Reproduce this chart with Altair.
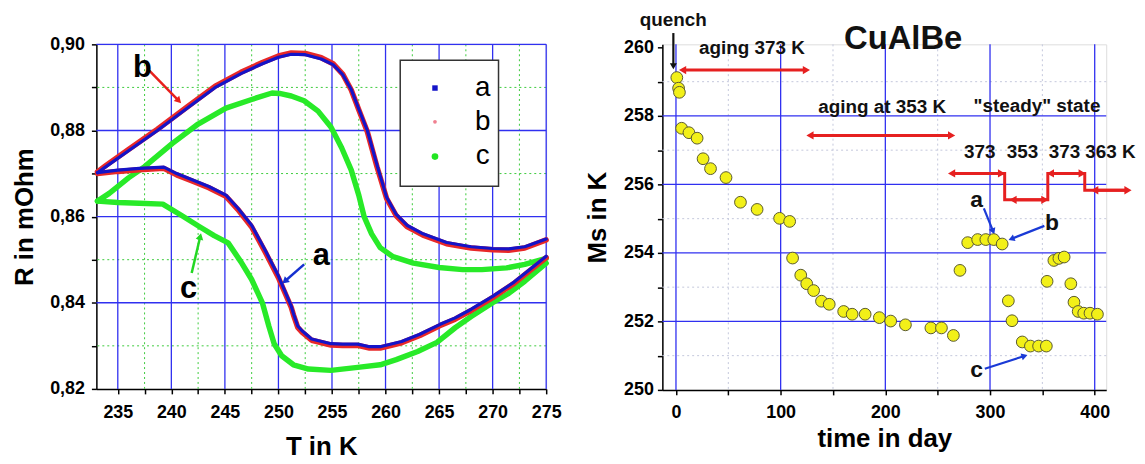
import math
import altair as alt
import pandas as pd

FONT = "Liberation Sans"

# ---------------- left panel: R(T) loops (heating branch, then cooling branch) -------------
a_T = [233.1, 233.9, 236.0, 238.7, 241.5, 244.1, 246.5, 248.5, 250.0, 251.2, 252.5, 254.0, 255.1, 256.0,
       256.8, 257.5, 258.3, 259.2, 260.1, 261.0, 262.0, 263.5, 265.7, 268.0, 270.0, 271.5, 273.0, 275.0,
       275.0, 273.5, 272.0, 270.0, 268.0, 266.5, 265.1, 263.2, 261.5, 259.5, 258.5, 257.4, 256.0, 254.9,
       253.1, 252.2, 251.8, 251.4, 251.2, 250.0, 248.8, 247.5, 246.2, 245.1, 243.5, 242.0, 240.5, 239.3,
       237.0, 235.0, 233.1]
a_R = [0.8702, 0.8716, 0.8753, 0.8800, 0.8852, 0.8900, 0.8932, 0.8955, 0.8970, 0.8977, 0.8976, 0.8966,
       0.8953, 0.8930, 0.8895, 0.8850, 0.8800, 0.8720, 0.8645, 0.8605, 0.8580, 0.8560, 0.8540, 0.8530,
       0.8526, 0.8525, 0.8530, 0.8548,
       0.8508, 0.8478, 0.8448, 0.8415, 0.8385, 0.8365, 0.8350, 0.8327, 0.8310, 0.8298, 0.8298, 0.8304,
       0.8304, 0.8305, 0.8316, 0.8335, 0.8346, 0.8375, 0.8392, 0.8462, 0.8520, 0.8580, 0.8620, 0.8650,
       0.8670, 0.8685, 0.8700, 0.8715, 0.8712, 0.8708, 0.8702]
a_n_heat = 28   # first 28 points: heating branch
b_T = a_T
b_R = [0.8704, 0.8719, 0.8756, 0.8803, 0.8855, 0.8903, 0.8935, 0.8958, 0.8973, 0.8980, 0.8979, 0.8969,
       0.8955, 0.8931, 0.8894, 0.8848, 0.8797, 0.8716, 0.8642, 0.8602, 0.8577, 0.8557, 0.8537, 0.8527,
       0.8523, 0.8522, 0.8527, 0.8546,
       0.8505, 0.8475, 0.8445, 0.8412, 0.8382, 0.8362, 0.8347, 0.8324, 0.8307, 0.8295, 0.8295, 0.8301,
       0.8301, 0.8302, 0.8313, 0.8332, 0.8343, 0.8372, 0.8389, 0.8458, 0.8516, 0.8576, 0.8617, 0.8647,
       0.8667, 0.8682, 0.8697, 0.8712, 0.8709, 0.8705, 0.8700]
b_n_heat = 28
c_T = [233.1, 234.2, 236.0, 237.5, 240.1, 242.5, 245.1, 247.5, 249.4, 250.1, 251.2, 252.4, 253.7, 254.9,
       255.9, 256.8, 257.5, 258.0, 258.7, 259.5, 260.7, 262.6, 265.0, 267.2, 269.0, 271.3, 273.0, 275.0,
       275.0, 273.0, 271.5, 270.0, 268.0, 266.5, 264.8, 263.0, 261.0, 259.5, 257.4, 254.9, 252.8, 251.4,
       250.3, 249.6, 249.1, 248.5, 247.5, 246.5, 245.3, 244.0, 242.6, 241.0, 239.2, 237.0, 235.0, 233.1]
c_R = [0.8636, 0.8654, 0.8690, 0.8716, 0.8770, 0.8815, 0.8852, 0.8872, 0.8887, 0.8886, 0.8880, 0.8869,
       0.8845, 0.8808, 0.8760, 0.8708, 0.8650, 0.8600, 0.8560, 0.8528, 0.8507, 0.8492, 0.8482, 0.8477,
       0.8477, 0.8481, 0.8489, 0.8503,
       0.8492, 0.8450, 0.8422, 0.8400, 0.8368, 0.8342, 0.8308, 0.8287, 0.8268, 0.8256, 0.8250, 0.8243,
       0.8246, 0.8256, 0.8277, 0.8305, 0.8346, 0.8400, 0.8454, 0.8495, 0.8539, 0.8556, 0.8577, 0.8602,
       0.8629, 0.8631, 0.8633, 0.8636]
c_n_heat = 28

L_major_x = [235, 240, 245, 250, 255, 260, 265, 270, 275]
L_minor_x = [237.5, 242.5, 247.5, 252.5, 257.5, 262.5, 267.5, 272.5]
L_major_y = [0.84, 0.86, 0.88, 0.90]
L_minor_y = [0.83, 0.85, 0.87, 0.89]
L_ticks_x = [235, 237.5, 240, 242.5, 245, 247.5, 250, 252.5, 255, 257.5, 260, 262.5, 265, 267.5, 270, 272.5, 275]
L_ticks_y = [0.82, 0.83, 0.84, 0.85, 0.86, 0.87, 0.88, 0.89, 0.90]

L_lbl_text = ["b", "a", "c"]
L_lbl_T = [237.3, 254.0, 241.6]
L_lbl_R = [0.8946, 0.8508, 0.8431]
L_arr_T1 = [237.9, 252.4, 241.9]
L_arr_R1 = [0.8940, 0.8489, 0.8469]
L_arr_T2 = [240.7, 250.6, 242.7]
L_arr_R2 = [0.8869, 0.8450, 0.8554]
L_arr_col = ["#e8201c", "#1530d0", "#22d822"]

# ---------------- right panel: Ms vs time -------------
days = [0.8, 2.5, 3.3, 5.4, 12.4, 20.2, 25.9, 33.0, 47.8, 61.6, 77.5, 99.0, 108.6, 111.4, 119.2, 124.9,
        131.5, 139.0, 146.4, 160.2, 168.3, 180.7, 194.3, 205.1, 219.2, 243.5, 253.6, 265.0, 271.3, 278.7,
        288.2, 296.0, 303.6, 311.6, 317.5, 321.0, 330.8, 338.6, 346.4, 353.8, 354.5, 361.0, 365.8, 370.8,
        377.2, 380.2, 384.2, 389.5, 395.5, 402.6]
ms = [259.12, 258.81, 258.69, 257.64, 257.51, 257.35, 256.75, 256.46, 256.20, 255.48, 255.27, 255.01,
      254.92, 253.85, 253.35, 253.10, 252.90, 252.59, 252.50, 252.29, 252.21, 252.21, 252.11, 252.01,
      251.90, 251.81, 251.81, 251.59, 253.49, 254.30, 254.39, 254.39, 254.39, 254.26, 252.60, 252.02,
      251.40, 251.28, 251.28, 251.28, 253.17, 253.78, 253.84, 253.88, 253.10, 252.56, 252.29, 252.24,
      252.24, 252.21]

R_major_x = [0, 100, 200, 300, 400]
R_minor_x = [50, 150, 250, 350]
R_major_y = [252, 254, 256, 258]
R_minor_y = [251, 253, 255, 257, 259]
R_ticks_x = [0, 50, 100, 150, 200, 250, 300, 350, 400]
R_ticks_y = [250, 251, 252, 253, 254, 255, 256, 257, 258, 259, 260]

step_t = [263.3, 314.0, 314.0, 355.2, 355.2, 390.5, 390.5, 431.8]
step_ms = [256.32, 256.32, 255.55, 255.55, 256.32, 256.32, 255.83, 255.83]

# double-headed red arrows (aging periods and steady-state steps)
dbl_t1 = [6.3, 128.0, 263.3, 322.0, 357.7, 400.0]
dbl_t2 = [124.6, 263.3, 311.0, 352.4, 388.0, 431.8]
dbl_ms = [259.34, 257.43, 256.32, 255.55, 256.32, 255.83]

# single arrows: quench (black), a, b, c (blue)
sgl_t1 = [-2.5, 294.1, 351.9, 295.0]
sgl_m1 = [260.42, 255.30, 254.79, 250.62]
sgl_t2 = [-2.5, 303.0, 320.4, 333.0]
sgl_m2 = [259.45, 254.63, 254.41, 250.99]
sgl_col = ["#111111", "#1a3ad6", "#1a3ad6", "#1a3ad6"]

R_txt = ["quench", "aging 373 K", "aging at 353 K", "\"steady\" state", "373", "353", "373", "363 K"]
R_txt_t = [-2.6, 72.6, 196.9, 344.8, 290.2, 331.0, 371.2, 415.0]
R_txt_m = [260.81, 259.99, 258.25, 258.30, 256.94, 256.94, 256.94, 256.94]
R_let = ["a", "b", "c"]
R_let_t = [287.2, 359.2, 287.2]
R_let_m = [255.54, 254.87, 250.57]

# ---------------- geometry -------------
L_W, L_H = 453, 347
R_W, R_H = 447, 348
L_XD, L_YD = [233, 275], [0.82, 0.90]
R_XD, R_YD = [-13, 411], [250, 260.09]
lsx, lsy = L_W / (L_XD[1] - L_XD[0]), L_H / (L_YD[1] - L_YD[0])
rsx, rsy = R_W / (R_XD[1] - R_XD[0]), R_H / (R_YD[1] - R_YD[0])

BLUE = "#3030f0"


def head_angle(x1, y1, x2, y2, sx, sy):
    return math.degrees(math.atan2((x2 - x1) * sx, (y2 - y1) * sy)) % 360


def sc(dom):
    return alt.Scale(domain=dom, nice=False, zero=False)


axis_common = dict(domainColor="black", domainWidth=1.5, tickColor="black", tickWidth=1.5, tickSize=5,
                   labelFont=FONT, labelFontWeight="bold", labelFontSize=18, labelColor="black",
                   labelOverlap=False, labelFlush=False, grid=False, titleFont=FONT,
                   titleFontWeight="bold", titleFontSize=26, titleColor="black",
                   titleBaseline="alphabetic", titleAlign="center")

L_XAXIS = alt.Axis(values=L_ticks_x, labelExpr="datum.value % 5 == 0 ? format(datum.value, 'd') : ''",
                   title="T in K", titleX=L_W / 2, titleY=66, labelBaseline="alphabetic",
                   labelPadding=24, **axis_common)
L_YAXIS = alt.Axis(values=L_ticks_y,
                   labelExpr="round(datum.value * 100) % 2 == 0 ? replace(format(datum.value, '.2f'), '.', ',') : ''",
                   title="R in mOhm", titleX=-64, titleY=L_H / 2, labelPadding=7, **axis_common)
R_XAXIS = alt.Axis(values=R_ticks_x, labelExpr="datum.value % 100 == 0 ? datum.label : ''",
                   title="time in day", titleX=R_W / 2, titleY=57, labelBaseline="alphabetic",
                   labelPadding=23, **axis_common)
R_YAXIS = alt.Axis(values=R_ticks_y, labelExpr="datum.value % 2 == 0 ? datum.label : ''",
                   title="Ms in K", titleX=-57, titleY=R_H / 2, labelPadding=4, **axis_common)


def LX(f):
    return alt.X(f, type="quantitative", scale=sc(L_XD), axis=L_XAXIS)


def LY(f):
    return alt.Y(f, type="quantitative", scale=sc(L_YD), axis=L_YAXIS)


def RX(f):
    return alt.X(f, type="quantitative", scale=sc(R_XD), axis=R_XAXIS)


def RY(f):
    return alt.Y(f, type="quantitative", scale=sc(R_YD), axis=R_YAXIS)


# ======== LEFT ========
curve_rows = []
for name, T, R, nh in (("c", c_T, c_R, c_n_heat), ("b", b_T, b_R, b_n_heat), ("a", a_T, a_R, a_n_heat)):
    for i, (t, r) in enumerate(zip(T, R)):
        curve_rows.append({"T": t, "R": r, "s": name, "o": i, "br": "heat" if i < nh else "cool"})
curves = pd.DataFrame(curve_rows)

l_minx = alt.Chart(pd.DataFrame({"v": L_minor_x})).mark_rule(
    color="#3ccc3c", strokeDash=[2, 3], strokeWidth=1).encode(x=LX("v"))
l_miny = alt.Chart(pd.DataFrame({"v": L_minor_y})).mark_rule(
    color="#3ccc3c", strokeDash=[2, 3], strokeWidth=1).encode(y=LY("v"))
l_majx = alt.Chart(pd.DataFrame({"v": L_major_x})).mark_rule(
    color=BLUE, strokeWidth=1.3).encode(x=LX("v"))
l_majy = alt.Chart(pd.DataFrame({"v": L_major_y})).mark_rule(
    color=BLUE, strokeWidth=1.3).encode(y=LY("v"))

line_style = {"c": ("#28ea28", 5.5), "b": ("#e82828", 5.5), "a": ("#1414c8", 3.2)}
curve_layers = []
for name in ("c", "b", "a"):
    col, w = line_style[name]
    curve_layers.append(
        alt.Chart(curves[curves.s == name]).mark_line(color=col, strokeWidth=w, strokeJoin="round",
                                                      strokeCap="round")
        .encode(x=LX("T"), y=LY("R"), order="o:Q", detail="br:N"))

l_arr = pd.DataFrame({"x1": L_arr_T1, "y1": L_arr_R1, "x2": L_arr_T2, "y2": L_arr_R2, "col": L_arr_col})
l_arr["ang"] = [head_angle(a, b, c, d, lsx, lsy) for a, b, c, d in
                zip(L_arr_T1, L_arr_R1, L_arr_T2, L_arr_R2)]
l_arr_shaft = alt.Chart(l_arr).mark_rule(strokeWidth=2.5).encode(
    x=LX("x1"), y=LY("y1"), x2="x2:Q", y2="y2:Q", color=alt.Color("col:N", scale=None))
l_arr_head = alt.Chart(l_arr).mark_point(shape="triangle-up", filled=True, opacity=1, size=60).encode(
    x=LX("x2"), y=LY("y2"), angle=alt.Angle("ang:Q", scale=None), color=alt.Color("col:N", scale=None))
l_lbl = alt.Chart(pd.DataFrame({"t": L_lbl_text, "x": L_lbl_T, "y": L_lbl_R})).mark_text(
    font=FONT, fontWeight="bold", fontSize=31, color="black").encode(x=LX("x"), y=LY("y"), text="t:N")

one = pd.DataFrame({"k": [0]})
leg_box = alt.Chart(one).mark_rect(fill="white", stroke="#333333", strokeWidth=1.5).encode(
    x=alt.value(306), x2=alt.value(405), y=alt.value(16), y2=alt.value(143))
leg_items = []
for (lab, col, shp, sz), yy in zip([("a", "#1414c8", "square", 30), ("b", "#f08090", "circle", 14),
                                    ("c", "#22e622", "circle", 45)], [44, 78, 113]):
    leg_items.append(alt.Chart(one).mark_point(shape=shp, filled=True, color=col, opacity=1, size=sz)
                     .encode(x=alt.value(341), y=alt.value(yy)))
    leg_items.append(alt.Chart(one).mark_text(text=lab, font=FONT, fontSize=28, color="black")
                     .encode(x=alt.value(389), y=alt.value(yy)))

left = alt.layer(l_minx, l_miny, l_majx, l_majy, *curve_layers, l_arr_shaft, l_arr_head, l_lbl,
                 leg_box, *leg_items).properties(width=L_W, height=L_H)

# ======== RIGHT ========
r_minx = alt.Chart(pd.DataFrame({"v": R_minor_x})).mark_rule(
    color="#c4c8dc", strokeDash=[2, 3], strokeWidth=1).encode(x=RX("v"))
r_miny = alt.Chart(pd.DataFrame({"v": R_minor_y})).mark_rule(
    color="#c4c8dc", strokeDash=[2, 3], strokeWidth=1).encode(y=RY("v"))
r_majx = alt.Chart(pd.DataFrame({"v": R_major_x})).mark_rule(
    color=BLUE, strokeWidth=1.3).encode(x=RX("v"))
r_majy = alt.Chart(pd.DataFrame({"v": R_major_y})).mark_rule(
    color=BLUE, strokeWidth=1.3).encode(y=RY("v"))

pts = alt.Chart(pd.DataFrame({"d": days, "m": ms})).mark_point(
    shape="circle", filled=True, fill="#f2f018", stroke="#5a5a30", strokeWidth=1, opacity=1, size=140
).encode(x=RX("d"), y=RY("m"))

step = alt.Chart(pd.DataFrame({"t": step_t, "m": step_ms, "o": list(range(len(step_t)))})).mark_line(
    color="#e62020", strokeWidth=3).encode(x=RX("t"), y=RY("m"), order="o:Q")

dbl = pd.DataFrame({"x1": dbl_t1, "x2": dbl_t2, "y": dbl_ms})
dbl_shaft = alt.Chart(dbl).mark_rule(color="#e62020", strokeWidth=3).encode(
    x=RX("x1"), x2="x2:Q", y=RY("y"))
hx, hy, ha = [], [], []
for a, b, m in zip(dbl_t1, dbl_t2, dbl_ms):
    hx += [a, b]
    hy += [m, m]
    ha += [head_angle(b, m, a, m, rsx, rsy), head_angle(a, m, b, m, rsx, rsy)]
dbl_head = alt.Chart(pd.DataFrame({"x": hx, "y": hy, "ang": ha})).mark_point(
    shape="triangle-up", filled=True, color="#e62020", opacity=1, size=70).encode(
    x=RX("x"), y=RY("y"), angle=alt.Angle("ang:Q", scale=None))

sg = pd.DataFrame({"x1": sgl_t1, "y1": sgl_m1, "x2": sgl_t2, "y2": sgl_m2, "col": sgl_col})
sg["ang"] = [head_angle(a, b, c, d, rsx, rsy) for a, b, c, d in zip(sgl_t1, sgl_m1, sgl_t2, sgl_m2)]
sg_shaft = alt.Chart(sg).mark_rule(strokeWidth=2.2).encode(
    x=RX("x1"), y=RY("y1"), x2="x2:Q", y2="y2:Q", color=alt.Color("col:N", scale=None))
sg_head = alt.Chart(sg).mark_point(shape="triangle-up", filled=True, opacity=1, size=50).encode(
    x=RX("x2"), y=RY("y2"), angle=alt.Angle("ang:Q", scale=None), color=alt.Color("col:N", scale=None))

r_txt = alt.Chart(pd.DataFrame({"s": R_txt, "x": R_txt_t, "y": R_txt_m})).mark_text(
    font=FONT, fontWeight="bold", fontSize=19, color="#111111").encode(x=RX("x"), y=RY("y"), text="s:N")
r_let = alt.Chart(pd.DataFrame({"s": R_let, "x": R_let_t, "y": R_let_m})).mark_text(
    font=FONT, fontWeight="bold", fontSize=23, color="#111111").encode(x=RX("x"), y=RY("y"), text="s:N")
r_title = alt.Chart(pd.DataFrame({"s": ["CuAlBe"], "x": [217.0], "y": [260.23]})).mark_text(
    font=FONT, fontWeight="bold", fontSize=33, color="#111111").encode(x=RX("x"), y=RY("y"), text="s:N")

right = alt.layer(r_minx, r_miny, r_majx, r_majy, step, dbl_shaft, dbl_head, sg_shaft, sg_head,
                  pts, r_txt, r_let, r_title).properties(width=R_W, height=R_H)

chart = alt.hconcat(left, right, spacing=117, bounds="flush").properties(
    padding={"left": 3, "top": 0, "right": 0, "bottom": 0}
).configure_view(stroke=None).configure(background="white")

chart.save("out.html", embed_options={"renderer": "svg", "actions": False})
